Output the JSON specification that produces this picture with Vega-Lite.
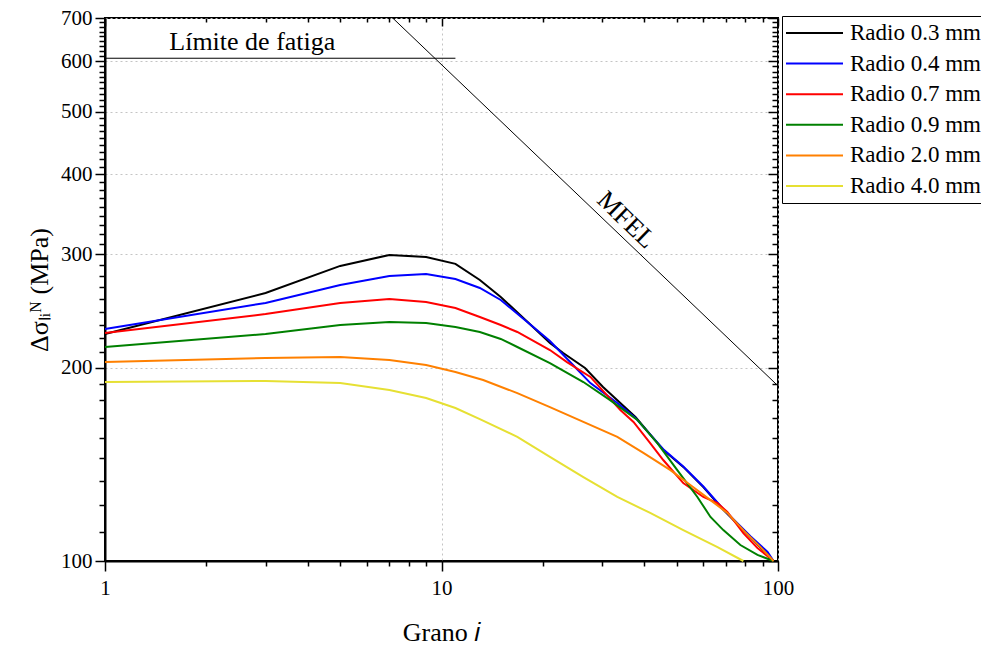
{
  "$schema": "https://vega.github.io/schema/vega-lite/v6.json",
  "width": 673,
  "height": 543,
  "autosize": {"type": "none"},
  "padding": {"left": 105, "top": 18, "right": 203, "bottom": 85},
  "background": "white",
  "config": {
    "view": {"stroke": "black", "strokeWidth": 2},
    "font": "Liberation Serif",
    "axis": {
      "domainColor": "black",
      "domainWidth": 2,
      "tickColor": "black",
      "tickWidth": 1.5,
      "labelFont": "Liberation Serif",
      "labelFontSize": 21,
      "labelColor": "black",
      "titleFont": "Liberation Serif",
      "titleFontSize": 26,
      "titleFontWeight": "normal",
      "titleColor": "black",
      "grid": false
    }
  },
  "datasets": {
    "curves": [
      {"serie": "Radio 0.3 mm", "i": 1, "s": 225.6},
      {"serie": "Radio 0.3 mm", "i": 3, "s": 261.3},
      {"serie": "Radio 0.3 mm", "i": 5, "s": 287.9},
      {"serie": "Radio 0.3 mm", "i": 7, "s": 299.5},
      {"serie": "Radio 0.3 mm", "i": 9, "s": 297.3},
      {"serie": "Radio 0.3 mm", "i": 11, "s": 290.0},
      {"serie": "Radio 0.3 mm", "i": 13, "s": 273.7},
      {"serie": "Radio 0.3 mm", "i": 15, "s": 257.6},
      {"serie": "Radio 0.3 mm", "i": 18.7, "s": 231.3},
      {"serie": "Radio 0.3 mm", "i": 21, "s": 218.5},
      {"serie": "Radio 0.3 mm", "i": 23, "s": 210.7},
      {"serie": "Radio 0.3 mm", "i": 26.7, "s": 199.7},
      {"serie": "Radio 0.3 mm", "i": 30.2, "s": 186.6},
      {"serie": "Radio 0.3 mm", "i": 37.7, "s": 167.5},
      {"serie": "Radio 0.3 mm", "i": 45.6, "s": 148.9},
      {"serie": "Radio 0.3 mm", "i": 52.3, "s": 140.1},
      {"serie": "Radio 0.3 mm", "i": 60, "s": 130.3},
      {"serie": "Radio 0.3 mm", "i": 68.8, "s": 120.1},
      {"serie": "Radio 0.3 mm", "i": 82.8, "s": 109.0},
      {"serie": "Radio 0.3 mm", "i": 97, "s": 100},

      {"serie": "Radio 0.4 mm", "i": 1, "s": 229.7},
      {"serie": "Radio 0.4 mm", "i": 3, "s": 252.1},
      {"serie": "Radio 0.4 mm", "i": 5, "s": 268.9},
      {"serie": "Radio 0.4 mm", "i": 7, "s": 277.7},
      {"serie": "Radio 0.4 mm", "i": 9, "s": 279.7},
      {"serie": "Radio 0.4 mm", "i": 11, "s": 274.7},
      {"serie": "Radio 0.4 mm", "i": 13, "s": 266.0},
      {"serie": "Radio 0.4 mm", "i": 15, "s": 254.8},
      {"serie": "Radio 0.4 mm", "i": 18.7, "s": 231.5},
      {"serie": "Radio 0.4 mm", "i": 21, "s": 220.0},
      {"serie": "Radio 0.4 mm", "i": 24.6, "s": 201.9},
      {"serie": "Radio 0.4 mm", "i": 27.7, "s": 189.2},
      {"serie": "Radio 0.4 mm", "i": 33.3, "s": 176.2},
      {"serie": "Radio 0.4 mm", "i": 37.7, "s": 167.0},
      {"serie": "Radio 0.4 mm", "i": 45.6, "s": 149.3},
      {"serie": "Radio 0.4 mm", "i": 52.3, "s": 140.3},
      {"serie": "Radio 0.4 mm", "i": 60, "s": 130.6},
      {"serie": "Radio 0.4 mm", "i": 68.8, "s": 120.4},
      {"serie": "Radio 0.4 mm", "i": 82.8, "s": 109.3},
      {"serie": "Radio 0.4 mm", "i": 93.1, "s": 103.3},
      {"serie": "Radio 0.4 mm", "i": 97, "s": 100},

      {"serie": "Radio 0.7 mm", "i": 1, "s": 226.4},
      {"serie": "Radio 0.7 mm", "i": 3, "s": 242.3},
      {"serie": "Radio 0.7 mm", "i": 5, "s": 252.1},
      {"serie": "Radio 0.7 mm", "i": 7, "s": 255.7},
      {"serie": "Radio 0.7 mm", "i": 9, "s": 253.0},
      {"serie": "Radio 0.7 mm", "i": 11, "s": 247.6},
      {"serie": "Radio 0.7 mm", "i": 13, "s": 239.8},
      {"serie": "Radio 0.7 mm", "i": 15, "s": 233.0},
      {"serie": "Radio 0.7 mm", "i": 16.8, "s": 227.2},
      {"serie": "Radio 0.7 mm", "i": 21, "s": 213.0},
      {"serie": "Radio 0.7 mm", "i": 23.6, "s": 204.0},
      {"serie": "Radio 0.7 mm", "i": 27.7, "s": 193.4},
      {"serie": "Radio 0.7 mm", "i": 34, "s": 171.8},
      {"serie": "Radio 0.7 mm", "i": 37.2, "s": 164.6},
      {"serie": "Radio 0.7 mm", "i": 41.7, "s": 152.6},
      {"serie": "Radio 0.7 mm", "i": 45.6, "s": 143.6},
      {"serie": "Radio 0.7 mm", "i": 52.3, "s": 132.2},
      {"serie": "Radio 0.7 mm", "i": 60, "s": 125.8},
      {"serie": "Radio 0.7 mm", "i": 66.1, "s": 123.1},
      {"serie": "Radio 0.7 mm", "i": 70.7, "s": 119.2},
      {"serie": "Radio 0.7 mm", "i": 78.9, "s": 110.5},
      {"serie": "Radio 0.7 mm", "i": 86.9, "s": 104.8},
      {"serie": "Radio 0.7 mm", "i": 97, "s": 100},

      {"serie": "Radio 0.9 mm", "i": 1, "s": 215.3},
      {"serie": "Radio 0.9 mm", "i": 3, "s": 225.6},
      {"serie": "Radio 0.9 mm", "i": 5, "s": 233.0},
      {"serie": "Radio 0.9 mm", "i": 7, "s": 235.5},
      {"serie": "Radio 0.9 mm", "i": 9, "s": 234.7},
      {"serie": "Radio 0.9 mm", "i": 11, "s": 231.3},
      {"serie": "Radio 0.9 mm", "i": 13, "s": 227.2},
      {"serie": "Radio 0.9 mm", "i": 15, "s": 221.6},
      {"serie": "Radio 0.9 mm", "i": 16.8, "s": 215.3},
      {"serie": "Radio 0.9 mm", "i": 21, "s": 203.3},
      {"serie": "Radio 0.9 mm", "i": 26.4, "s": 189.9},
      {"serie": "Radio 0.9 mm", "i": 31.7, "s": 178.0},
      {"serie": "Radio 0.9 mm", "i": 38.2, "s": 165.8},
      {"serie": "Radio 0.9 mm", "i": 43.8, "s": 152.6},
      {"serie": "Radio 0.9 mm", "i": 50.2, "s": 138.5},
      {"serie": "Radio 0.9 mm", "i": 57.6, "s": 125.8},
      {"serie": "Radio 0.9 mm", "i": 63, "s": 117.1},
      {"serie": "Radio 0.9 mm", "i": 68.8, "s": 111.7},
      {"serie": "Radio 0.9 mm", "i": 77.3, "s": 105.9},
      {"serie": "Radio 0.9 mm", "i": 86.9, "s": 102.2},
      {"serie": "Radio 0.9 mm", "i": 97, "s": 100},

      {"serie": "Radio 2.0 mm", "i": 1, "s": 204.0},
      {"serie": "Radio 2.0 mm", "i": 3, "s": 207.0},
      {"serie": "Radio 2.0 mm", "i": 5, "s": 207.7},
      {"serie": "Radio 2.0 mm", "i": 7, "s": 205.5},
      {"serie": "Radio 2.0 mm", "i": 9, "s": 201.9},
      {"serie": "Radio 2.0 mm", "i": 11, "s": 196.9},
      {"serie": "Radio 2.0 mm", "i": 13.3, "s": 191.3},
      {"serie": "Radio 2.0 mm", "i": 16.8, "s": 182.5},
      {"serie": "Radio 2.0 mm", "i": 21, "s": 173.6},
      {"serie": "Radio 2.0 mm", "i": 26.4, "s": 164.6},
      {"serie": "Radio 2.0 mm", "i": 33.3, "s": 156.0},
      {"serie": "Radio 2.0 mm", "i": 39.8, "s": 147.3},
      {"serie": "Radio 2.0 mm", "i": 47.9, "s": 138.5},
      {"serie": "Radio 2.0 mm", "i": 54.9, "s": 131.3},
      {"serie": "Radio 2.0 mm", "i": 63, "s": 124.4},
      {"serie": "Radio 2.0 mm", "i": 70.7, "s": 118.8},
      {"serie": "Radio 2.0 mm", "i": 78.9, "s": 111.7},
      {"serie": "Radio 2.0 mm", "i": 88.7, "s": 105.1},
      {"serie": "Radio 2.0 mm", "i": 97, "s": 100},

      {"serie": "Radio 4.0 mm", "i": 1, "s": 189.9},
      {"serie": "Radio 4.0 mm", "i": 3, "s": 190.6},
      {"serie": "Radio 4.0 mm", "i": 5, "s": 189.2},
      {"serie": "Radio 4.0 mm", "i": 7, "s": 184.5},
      {"serie": "Radio 4.0 mm", "i": 9, "s": 179.3},
      {"serie": "Radio 4.0 mm", "i": 11, "s": 173.0},
      {"serie": "Radio 4.0 mm", "i": 13, "s": 166.3},
      {"serie": "Radio 4.0 mm", "i": 16.8, "s": 156.0},
      {"serie": "Radio 4.0 mm", "i": 21, "s": 145.2},
      {"serie": "Radio 4.0 mm", "i": 26.4, "s": 135.1},
      {"serie": "Radio 4.0 mm", "i": 33.3, "s": 125.8},
      {"serie": "Radio 4.0 mm", "i": 41.7, "s": 118.8},
      {"serie": "Radio 4.0 mm", "i": 52.3, "s": 111.7},
      {"serie": "Radio 4.0 mm", "i": 66.1, "s": 105.1},
      {"serie": "Radio 4.0 mm", "i": 78.9, "s": 100}
    ],
    "fatiga": [
      {"i": 1, "s": 606},
      {"i": 11, "s": 606}
    ],
    "mfel": [
      {"i": 7.16, "s": 700},
      {"i": 100, "s": 187.3}
    ],
    "labelFatiga": [
      {"i": 2.74, "s": 642, "texto": "Límite de fatiga"}
    ],
    "labelMfel": [
      {"i": 35.4, "s": 339.5, "texto": "MFEL"}
    ]
  },
  "layer": [
    {
      "data": {"name": "curves"},
      "mark": {"type": "line", "strokeWidth": 2},
      "encoding": {
        "x": {
          "field": "i", "type": "quantitative",
          "scale": {"type": "log", "domain": [1, 100], "nice": false},
          "axis": {
            "orient": "bottom",
            "values": [1, 2, 3, 4, 5, 6, 7, 8, 9, 10, 20, 30, 40, 50, 60, 70, 80, 90, 100],
            "labelExpr": "indexof([1, 10, 100], datum.value) >= 0 ? format(datum.value, 'd') : ''",
            "tickSize": {"condition": {"test": "indexof([1, 10, 100], datum.value) >= 0", "value": 10}, "value": 5},
            "labelPadding": 6, "labelFlush": false, "labelOverlap": false,
            "title": "Grano 𝑖", "titlePadding": 21,
            "grid": true,
            "gridOpacity": {"condition": {"test": "indexof([1, 10, 100], datum.value) >= 0", "value": 1}, "value": 0},
            "gridColor": "#c4c4c4", "gridDash": [2, 3], "gridWidth": 1
          }
        },
        "y": {
          "field": "s", "type": "quantitative",
          "scale": {"type": "log", "domain": [100, 700], "nice": false},
          "axis": {
            "orient": "left",
            "values": [100, 111.111, 122.222, 133.333, 144.444, 155.556, 166.667, 177.778, 188.889, 200, 211.111, 222.222, 233.333, 244.444, 255.556, 266.667, 277.778, 288.889, 300, 311.111, 322.222, 333.333, 344.444, 355.556, 366.667, 377.778, 388.889, 400, 411.111, 422.222, 433.333, 444.444, 455.556, 466.667, 477.778, 488.889, 500, 511.111, 522.222, 533.333, 544.444, 555.556, 566.667, 577.778, 588.889, 600, 611.111, 622.222, 633.333, 644.444, 655.556, 666.667, 677.778, 688.889, 700],
            "labelExpr": "indexof([100, 200, 300, 400, 500, 600, 700], datum.value) >= 0 ? format(datum.value, 'd') : ''",
            "tickSize": {"condition": {"test": "indexof([100, 200, 300, 400, 500, 600, 700], datum.value) >= 0", "value": 10}, "value": 6},
            "labelPadding": 3, "labelFlush": false, "labelOverlap": false,
            "title": "Δσₗᵢᴺ (MPa)", "titlePadding": 8,
            "grid": true,
            "gridOpacity": {"condition": {"test": "indexof([100, 200, 300, 400, 500, 600, 700], datum.value) >= 0", "value": 1}, "value": 0},
            "gridColor": "#c4c4c4", "gridDash": [2, 3], "gridWidth": 1
          }
        },
        "color": {
          "field": "serie", "type": "nominal",
          "scale": {
            "domain": ["Radio 0.3 mm", "Radio 0.4 mm", "Radio 0.7 mm", "Radio 0.9 mm", "Radio 2.0 mm", "Radio 4.0 mm"],
            "range": ["#000000", "#0000ff", "#ff0000", "#008000", "#ff8000", "#e6e033"]
          },
          "legend": {
            "orient": "none", "legendX": 677, "legendY": -2,
            "title": null,
            "strokeColor": "black", "fillColor": "white", "padding": 3,
            "symbolType": "stroke", "symbolSize": 3249, "symbolStrokeWidth": 2,
            "clipHeight": 28,
            "labelFont": "Liberation Serif", "labelFontSize": 23, "labelColor": "black",
            "labelOffset": 6, "rowPadding": 2.6, "labelLimit": 400
          }
        }
      }
    },
    {
      "data": {"name": "fatiga"},
      "mark": {"type": "line", "color": "black", "strokeWidth": 1},
      "encoding": {
        "x": {
          "field": "i", "type": "quantitative",
          "scale": {"type": "log", "domain": [1, 100], "nice": false},
          "axis": {
            "orient": "top", "offset": -8,
            "values": [1, 10, 100],
            "tickSize": 8, "domain": false,
            "labels": false, "title": null, "grid": false
          }
        },
        "y": {
          "field": "s", "type": "quantitative",
          "scale": {"type": "log", "domain": [100, 700], "nice": false},
          "axis": {
            "orient": "right", "offset": -10,
            "values": [100, 200, 300, 400, 500, 600, 700],
            "tickSize": 10, "domain": false,
            "labels": false, "title": null, "grid": false
          }
        }
      }
    },
    {
      "data": {"name": "mfel"},
      "mark": {"type": "line", "color": "black", "strokeWidth": 1},
      "encoding": {
        "x": {
          "field": "i", "type": "quantitative",
          "scale": {"type": "log", "domain": [1, 100], "nice": false},
          "axis": {
            "orient": "top", "offset": -4,
            "values": [2, 3, 4, 5, 6, 7, 8, 9, 20, 30, 40, 50, 60, 70, 80, 90],
            "tickSize": 4, "domain": false,
            "labels": false, "title": null, "grid": false
          }
        },
        "y": {
          "field": "s", "type": "quantitative",
          "scale": {"type": "log", "domain": [100, 700], "nice": false},
          "axis": {
            "orient": "right", "offset": -6,
            "values": [111.111, 122.222, 133.333, 144.444, 155.556, 166.667, 177.778, 188.889, 211.111, 222.222, 233.333, 244.444, 255.556, 266.667, 277.778, 288.889, 311.111, 322.222, 333.333, 344.444, 355.556, 366.667, 377.778, 388.889, 411.111, 422.222, 433.333, 444.444, 455.556, 466.667, 477.778, 488.889, 511.111, 522.222, 533.333, 544.444, 555.556, 566.667, 577.778, 588.889, 611.111, 622.222, 633.333, 644.444, 655.556, 666.667, 677.778, 688.889],
            "tickSize": 6, "domain": false,
            "labels": false, "title": null, "grid": false
          }
        }
      }
    },
    {
      "data": {"name": "labelFatiga"},
      "mark": {"type": "text", "font": "Liberation Serif", "fontSize": 26, "color": "black", "align": "center", "baseline": "middle"},
      "encoding": {
        "x": {"field": "i", "type": "quantitative", "scale": {"type": "log", "domain": [1, 100], "nice": false}, "axis": null},
        "y": {"field": "s", "type": "quantitative", "scale": {"type": "log", "domain": [100, 700], "nice": false}, "axis": null},
        "text": {"field": "texto", "type": "nominal"}
      }
    },
    {
      "data": {"name": "labelMfel"},
      "mark": {"type": "text", "font": "Liberation Serif", "fontSize": 26, "color": "black", "align": "center", "baseline": "middle", "angle": 44},
      "encoding": {
        "x": {"field": "i", "type": "quantitative", "scale": {"type": "log", "domain": [1, 100], "nice": false}, "axis": null},
        "y": {"field": "s", "type": "quantitative", "scale": {"type": "log", "domain": [100, 700], "nice": false}, "axis": null},
        "text": {"field": "texto", "type": "nominal"}
      }
    }
  ]
}
